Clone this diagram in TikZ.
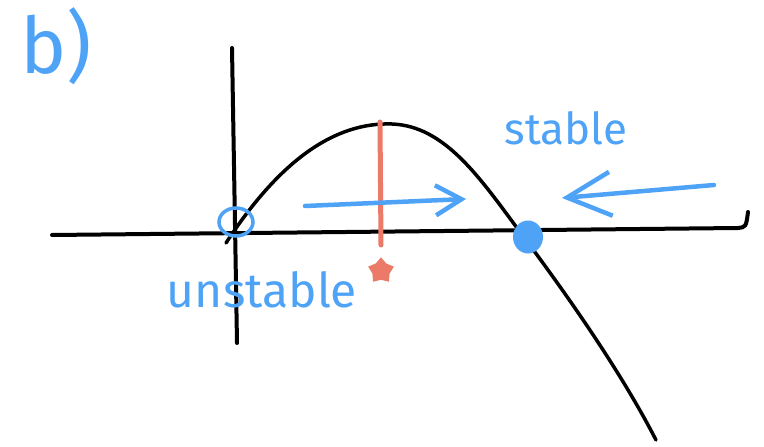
\documentclass[tikz,border=0pt]{standalone}
\usepackage{fontspec}
\setmainfont{Fira Sans}
\usepackage{xcolor}
\usetikzlibrary{arrows.meta, positioning, shapes.geometric}

\definecolor{penblue}{RGB}{78,163,247}
\definecolor{penred}{RGB}{236,122,104}

\begin{document}
\begin{tikzpicture}[
  x=1pt, y=-1pt,
  axis/.style={line width=4pt, line cap=round, black},
  curve/.style={line width=3.5pt, line cap=round, black},
  marker/.style={line width=5pt, line cap=round, penred},
  flow/.style={line width=4.5pt, line cap=round, penblue,
    -{Straight Barb[length=26pt, width=30pt, line width=4.5pt]}},
  bigflow/.style={flow,
    -{Straight Barb[length=44pt, width=44pt, line width=4.5pt]}},
  stabledot/.style={ellipse, fill=penblue, minimum width=30pt,
    minimum height=33pt, inner sep=0pt},
  unstabledot/.style={ellipse, draw=penblue, line width=3.5pt,
    minimum width=34pt, minimum height=28pt, inner sep=0pt},
  starmark/.style={star, star points=5, fill=penred, minimum size=27pt,
    inner sep=0pt},
  label/.style={text=penblue, font=\fontsize{40}{40}\selectfont},
]
\useasboundingbox (0,0) rectangle (764,447);

% ---- Axes ----
\draw[axis] (52,235) -- (738,228) .. controls (746,227) .. (748,212);
\draw[axis] (232,48) -- (237,343);

% ---- Curve ----
\draw[curve] (226,243) .. controls (280,160) and (335,122) .. (392,124)
  .. controls (445,126) and (480,178) .. (520,232)
  .. controls (565,292) and (620,370) .. (656,440);

% ---- Red marker ----
\coordinate (mtop) at (380,122);
\coordinate (mbot) at (381,245);
\draw[marker] (mtop) -- (mbot);
\node[starmark, below=12pt of mbot] (star) {};

% ---- Fixed points ----
\node[unstabledot] (unst) at (236,222) {};
\node[stabledot] (stab) at (528,237) {};

% ---- Flow arrows ----
\coordinate (rfrom) at (305,206);
\coordinate (rto) at (466,199);
\draw[flow] (rfrom) -- (rto);
\coordinate (lfrom) at (714,185);
\coordinate (lto) at (562,198);
\draw[bigflow] (lfrom) -- (lto);

% ---- Labels ----
\node[label, font=\fontsize{78}{78}\selectfont] (blabel) at (56,46) {b)};
\node[label, font=\fontsize{44}{44}\selectfont] (stext) at (566,128) {stable};
\node[label, font=\fontsize{48}{48}\selectfont] (utext) at (262,290) {unstable};

\end{tikzpicture}
\end{document}
